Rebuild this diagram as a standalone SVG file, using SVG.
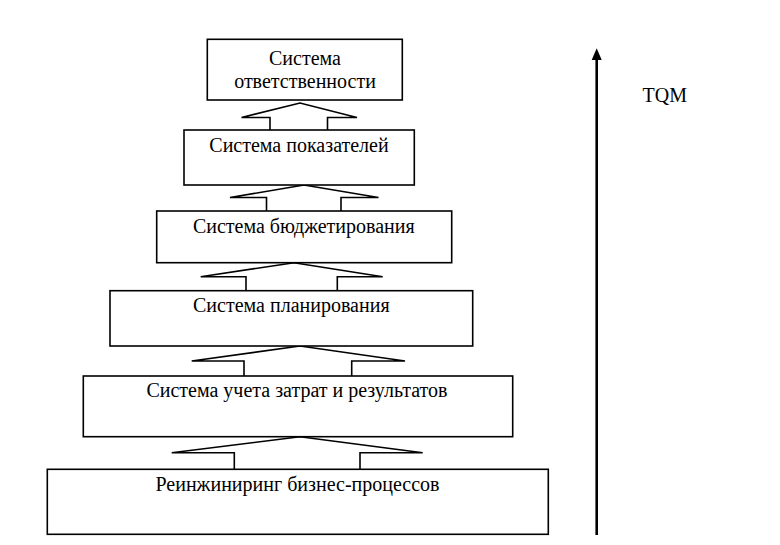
<svg xmlns="http://www.w3.org/2000/svg" width="780" height="545" viewBox="0 0 780 545">
<style>
.box{fill:#fff;stroke:#000;stroke-width:1.6}
.conn{fill:#fff;stroke:#000;stroke-width:1.6;stroke-linejoin:miter}
.t{font-family:"Liberation Serif","Times New Roman",serif;font-size:20px;fill:#000;text-anchor:middle}
</style>
<rect width="780" height="545" fill="#fff"/>
<g id="connectors">
<polyline class="conn" points="270,130 270,117.5 241.5,117.5 300,103 357,117.5 327.5,117.5 327.5,130"/>
<polyline class="conn" points="266.5,211 266.5,197.5 230,197.5 304,185 378.5,197.5 341,197.5 341,211"/>
<polyline class="conn" points="246,290.7 246,276.7 200.7,276.7 294,262.7 382.7,276.7 337.3,276.7 337.3,290.7"/>
<polyline class="conn" points="244,376 244,361 191.7,361 300,346 405,361 351.7,361 351.7,376"/>
<polyline class="conn" points="234.3,469.3 234.3,452.7 171.7,452.7 300,436.7 422.7,452.7 360,452.7 360,469.3"/>
<line x1="596.7" y1="535" x2="596.7" y2="58" stroke="#000" stroke-width="2.6"/>
<path d="M591.7,60 L596.7,48.3 L601.7,60 Z" fill="#000"/>
</g>
<g id="n1">
<rect class="box" x="207.3" y="39.3" width="195" height="60.7"/>
<text class="t" x="305" y="65">Система</text>
<text class="t" x="305" y="88.3">ответственности</text>
</g>
<g id="n2">
<rect class="box" x="184" y="130" width="230.3" height="55"/>
<text class="t" x="299" y="151.7">Система показателей</text>
</g>
<g id="n3">
<rect class="box" x="156.7" y="211" width="295" height="51.7"/>
<text class="t" x="303.8" y="232.7">Система бюджетирования</text>
</g>
<g id="n4">
<rect class="box" x="110" y="290.7" width="362.7" height="55.3"/>
<text class="t" x="291.3" y="311.7">Система планирования</text>
</g>
<g id="n5">
<rect class="box" x="83.3" y="376" width="429.4" height="60.7"/>
<text class="t" x="297" y="397.3">Система учета затрат и результатов</text>
</g>
<g id="n6">
<rect class="box" x="47.3" y="469.3" width="501" height="65"/>
<text class="t" x="297.5" y="490.7">Реинжиниринг бизнес-процессов</text>
</g>
<g id="tqm">
<text class="t" x="664.7" y="101.7">TQM</text>
</g>
</svg>
